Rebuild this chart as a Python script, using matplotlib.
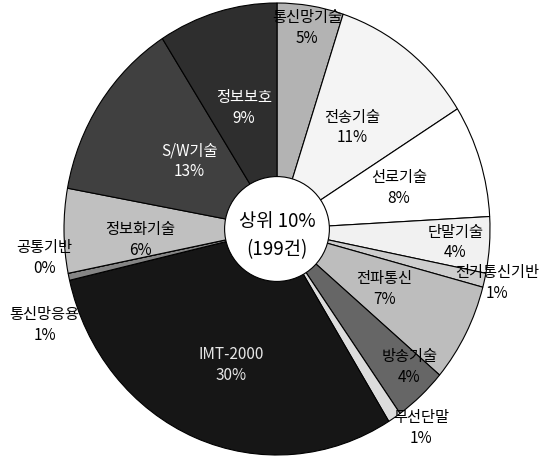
import matplotlib
matplotlib.use('Agg')
import matplotlib.pyplot as plt
from matplotlib.patches import Ellipse
import numpy as np

plt.rcParams['font.family'] = ['Noto Sans CJK KR', 'DejaVu Sans']

# 분야별 건수 (상위 10%, 총 199건)
categories = ['통신망기술', '전송기술', '선로기술', '단말기술', '전기통신기반',
              '전파통신', '방송기술', '무선단말', 'IMT-2000', '통신망응용',
              '공통기반', '정보화기술', 'S/W기술', '정보보호']
counts = [10, 22, 16, 8, 2, 14, 8, 2, 60, 1, 0, 12, 26, 18]
total = 199

colors = ['#b3b3b3', '#f4f4f4', '#ffffff', '#f1f1f1', '#cdcdcd',
          '#bdbdbd', '#666666', '#dcdcdc', '#161616', '#858585',
          '#999999', '#c0c0c0', '#404040', '#2e2e2e']
text_colors = ['black'] * 8 + ['#e6e6e6'] + ['black'] * 3 + ['white', 'white']
# 라벨 반지름, 각도 보정
label_r = [0.90, 0.57, 0.60, 0.84, 1.06, 0.57, 0.87, 1.11, 0.64, 1.17,
           1.10, 0.645, 0.51, 0.556]
label_shift = [0, 0, 0, 0, 0, 0, 3, 4, 3, 9, -4.6, 4, -2, 0]

fig = plt.figure(figsize=(5.4, 4.61), dpi=100)
lim = 1.02
ax = fig.add_axes([(277 - lim * 213) / 540, (461 - 229 - lim * 226) / 461,
                   2 * lim * 213 / 540, 2 * lim * 226 / 461])

wedges, _ = ax.pie(counts, colors=colors, startangle=90, counterclock=False,
                   wedgeprops=dict(edgecolor='black', linewidth=0.8))
ax.set_aspect('auto')
ax.set_xlim(-lim, lim)
ax.set_ylim(-lim, lim)
ax.axis('off')

# 라벨
start = 90.0
for i, c in enumerate(counts):
    span = 360.0 * c / total
    mid = start - span / 2 + label_shift[i]
    start -= span
    th = np.deg2rad(mid)
    x = label_r[i] * np.cos(th)
    y = label_r[i] * np.sin(th)
    pct = int(np.floor(100.0 * c / total + 0.5))
    ax.text(x, y, '%s\n%d%%' % (categories[i], pct), ha='center', va='center',
            fontsize=11, color=text_colors[i], linespacing=1.3)

# 가운데 원
ax.add_patch(Ellipse((0, 0), 2 * 0.246, 2 * 0.232, facecolor='white',
                     edgecolor='black', linewidth=0.8, zorder=5))
ax.text(0, -0.03, '상위 10%%\n(%d건)' % total, ha='center', va='center',
        fontsize=13.5, linespacing=1.45, zorder=6)

plt.savefig('out.png', dpi=100)
